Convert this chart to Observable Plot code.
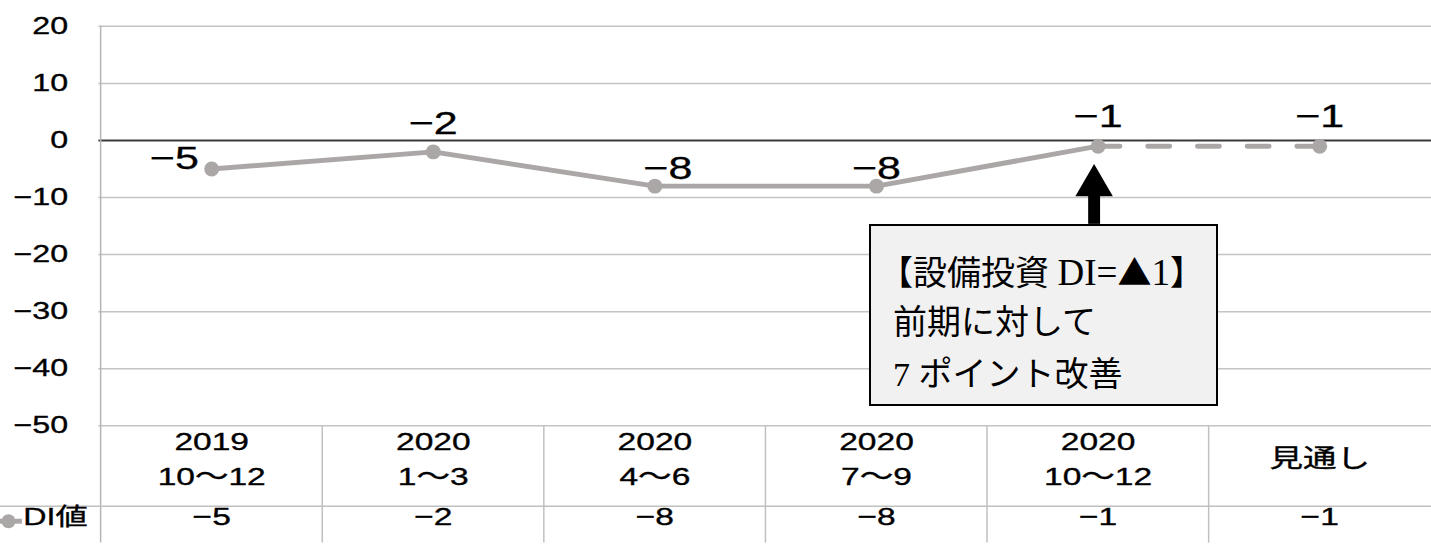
<!DOCTYPE html>
<html>
<head>
<meta charset="utf-8">
<script src="https://cdn.jsdelivr.net/npm/d3@7"></script>
<script src="https://cdn.jsdelivr.net/npm/@observablehq/plot@0.6"></script>
<style>
  html, body { margin: 0; padding: 0; background: #fff; overflow: hidden; }
  #wrap { position: relative; width: 1431px; height: 546px; overflow: hidden; }
  #note {
    position: absolute; left: 869px; top: 224px; width: 345px; height: 178px;
    background: #f1f1f1; border: 2px solid #000; box-sizing: content-box;
    font-family: "Liberation Serif", "Noto Sans CJK JP", serif; font-size: 34px;
    line-height: 52px; color: #000; padding: 0;
  }
  #note div { position: absolute; left: 22px; white-space: nowrap; }
  #note .cjk { font-family: "Noto Sans CJK JP", sans-serif; }
  #note .lat { font-size: 37px; }
</style>
</head>
<body>
<div id="wrap"></div>
<script>
// ---- data ----
const categories = ["2019 10～12", "2020 1～3", "2020 4～6", "2020 7～9", "2020 10～12", "見通し"];
const yearLabels = ["2019", "2020", "2020", "2020", "2020", ""];
const periodLabels = ["10～12", "1～3", "4～6", "7～9", "10～12", "見通し"];
const diValues = [-5, -2, -8, -8, -1, -1];
const yTicks = [20, 10, 0, -10, -20, -30, -40, -50];
const seriesName = "DI値";
const annotationLines = ["【設備投資 DI=▲1】", "前期に対して", "7 ポイント改善"];
const arrowTarget = "2020 10～12";
const arrowShaft = [-14.7, -9.5];   // value range of the arrow shaft
const arrowHead = -7.9;             // value of the arrow head centre

// ---- layout ----
const W = 1440, H = 546, ML = 99, MT = 26, MB = 118;
const bw = (W - ML) / categories.length;
const grey = "#aba7a7";
const fmt = d => d < 0 ? "\u2212" + Math.abs(d) : String(d);

const data = categories.map((c, i) => ({
  cat: c, year: yearLabels[i], period: periodLabels[i], value: diValues[i], i
}));

const chart = Plot.plot({
  width: W, height: H,
  marginLeft: ML, marginRight: 0, marginTop: MT, marginBottom: MB,
  x: {type: "band", domain: categories, padding: 0, axis: null},
  y: {domain: [-50, 20], axis: null},
  style: {
    fontFamily: "'Liberation Sans', 'Noto Sans CJK JP', sans-serif",
    fontSize: "24px", color: "#000", background: "#fff", overflow: "visible"
  },
  marks: [
    // grid
    Plot.ruleY(yTicks.filter(d => d !== 0), {stroke: "#c4c4c4", strokeWidth: 1.5}),
    Plot.ruleY([0], {stroke: "#3a3a3a", strokeWidth: 2}),
    // left axis line running down through the table
    Plot.ruleX([categories[0]], {x: d => d, dx: -bw / 2, insetBottom: -MB, stroke: "#b5b5b5", strokeWidth: 1.5}),
    // table vertical separators
    Plot.ruleX(categories.slice(1), {x: d => d, dx: -bw / 2, insetTop: 402, insetBottom: -MB, stroke: "#c0c0c0", strokeWidth: 1.5}),
    // table row divider
    Plot.ruleY([-50], {dy: 81, insetLeft: -ML, stroke: "#c0c0c0", strokeWidth: 1.5}),
    // y tick labels
    Plot.text(yTicks, {y: d => d, text: fmt, frameAnchor: "left", dx: -31, textAnchor: "end", fontSize: 24}),
    // series
    Plot.line(data.slice(0, 5), {x: "cat", y: "value", stroke: grey, strokeWidth: 5}),
    Plot.line(data.slice(4), {x: "cat", y: "value", stroke: grey, strokeWidth: 5, strokeDasharray: "22,28", strokeLinecap: "round"}),
    Plot.dot(data, {x: "cat", y: "value", r: 7.5, fill: grey}),
    // data labels
    Plot.text(data.filter(d => d.i === 0), {x: "cat", y: "value", text: d => fmt(d.value), dx: -13, dy: -10, textAnchor: "end", fontSize: 32}),
    Plot.text(data.filter(d => d.i === 1), {x: "cat", y: "value", text: d => fmt(d.value), dy: -28, fontSize: 32}),
    Plot.text(data.filter(d => d.i === 2), {x: "cat", y: "value", text: d => fmt(d.value), dx: 13, dy: -17, fontSize: 32}),
    Plot.text(data.filter(d => d.i === 3), {x: "cat", y: "value", text: d => fmt(d.value), dy: -17, fontSize: 32}),
    Plot.text(data.filter(d => d.i >= 4), {x: "cat", y: "value", text: d => fmt(d.value), dy: -30, fontSize: 32}),
    // table: category labels
    Plot.text(data.filter(d => d.year), {x: "cat", text: "year", frameAnchor: "bottom", dy: 24, fontSize: 25}),
    Plot.text(data.filter(d => d.year), {x: "cat", text: "period", frameAnchor: "bottom", dy: 60, fontSize: 25}),
    Plot.text(data.filter(d => !d.year), {x: "cat", text: "period", frameAnchor: "bottom", dy: 41, fontSize: 25}),
    // table: values
    Plot.text(data, {x: "cat", text: d => fmt(d.value), frameAnchor: "bottom", dy: 100, fontSize: 25}),
    // legend in table
    Plot.ruleY([-50], {dy: 96, insetLeft: -ML, insetRight: W - 22, stroke: grey, strokeWidth: 5}),
    Plot.dot([seriesName], {frameAnchor: "bottom-left", dx: -ML + 8, dy: 96, r: 7, fill: grey}),
    Plot.text([seriesName], {text: d => d, frameAnchor: "bottom-left", dx: -ML + 23, dy: 100, textAnchor: "start", fontSize: 24}),
    // annotation arrow
    Plot.ruleX([arrowTarget], {x: d => d, y1: arrowShaft[0], y2: arrowShaft[1], stroke: "#000", strokeWidth: 12, dx: -4}),
    Plot.dot([arrowTarget], {x: d => d, y: () => arrowHead, symbol: "triangle", r: 14, fill: "#000", dx: -4})
  ]
});

// widen and slightly embolden the sans-serif glyphs like the original font
chart.querySelectorAll("text").forEach(t => {
  const tr = t.getAttribute("transform");
  if (tr && tr.includes("translate")) {
    t.setAttribute("transform", tr + " scale(1.35,1)");
  } else {
    const x = +(t.getAttribute("x") || 0), y = +(t.getAttribute("y") || 0);
    t.removeAttribute("x"); t.removeAttribute("y");
    t.setAttribute("transform", `translate(${x},${y}) scale(1.35,1)` + (tr ? " " + tr : ""));
  }
  t.setAttribute("stroke", "#000");
  t.setAttribute("stroke-width", "0.35");
});

const wrap = document.getElementById("wrap");
wrap.appendChild(chart);

const note = document.createElement("div");
note.id = "note";
annotationLines.forEach((s, k) => {
  const d = document.createElement("div");
  // ▲ in the CJK font (full width), Latin "DI=" / "1" slightly larger as in the original
  s.split(/(▲|DI=|1)/).forEach(part => {
    if (!part) return;
    if (part === "▲") {
      const sp = document.createElement("span");
      sp.className = "cjk";
      sp.textContent = part;
      d.appendChild(sp);
    } else if (k === 0 && (part === "DI=" || part === "1")) {
      const sp = document.createElement("span");
      sp.className = "lat";
      sp.textContent = part;
      d.appendChild(sp);
    } else {
      d.appendChild(document.createTextNode(part));
    }
  });
  d.style.top = (19 + k * 52) + "px";
  if (k === 0) d.style.left = "8px";
  note.appendChild(d);
});
wrap.appendChild(note);
</script>
</body>
</html>
